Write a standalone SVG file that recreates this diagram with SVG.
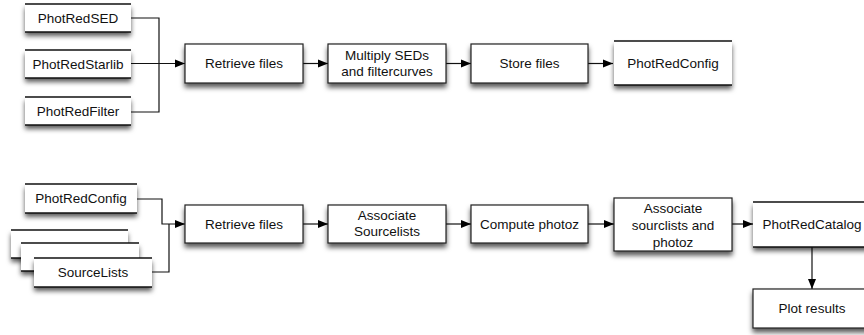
<svg xmlns="http://www.w3.org/2000/svg" width="864" height="335" viewBox="0 0 864 335">
<defs>
<filter id="sh" x="-10%" y="-20%" width="120%" height="160%">
<feDropShadow dx="0" dy="4" stdDeviation="2.5" flood-color="#000" flood-opacity="0.65"/>
</filter>
<marker id="ah" viewBox="0 0 10 10" refX="10" refY="5" markerWidth="10" markerHeight="10" markerUnits="userSpaceOnUse" orient="auto">
<path d="M0,1 L10,5 L0,9 Z" fill="#000"/>
</marker>
</defs>
<style>
.box{fill:#fff;stroke:#222;stroke-width:1.2}
.bg{fill:#fff}
.ln{stroke:#111;stroke-width:1.6}
.c{fill:none;stroke:#111;stroke-width:1.2}
text{font-family:"Liberation Sans",Arial,sans-serif;font-size:13.5px;fill:#111;text-anchor:middle}
</style>
<rect width="864" height="335" fill="#fff"/>

<g id="connectors">
<path class="c" d="M131,18 H159 V112 H131"/>
<path class="c" d="M131,63.5 H185" marker-end="url(#ah)"/>
<path class="c" d="M303,63.5 H328" marker-end="url(#ah)"/>
<path class="c" d="M446,63.5 H471" marker-end="url(#ah)"/>
<path class="c" d="M588,63.5 H613" marker-end="url(#ah)"/>
<path class="c" d="M137,199 H162 V224 H185" marker-end="url(#ah)"/>
<path class="c" d="M152,272 H169 V224"/>
<path class="c" d="M303,224 H328" marker-end="url(#ah)"/>
<path class="c" d="M446,224 H471" marker-end="url(#ah)"/>
<path class="c" d="M588,224 H614" marker-end="url(#ah)"/>
<path class="c" d="M732,224 H753" marker-end="url(#ah)"/>
<path class="c" d="M812,247 V289" marker-end="url(#ah)"/>
</g>

<g id="n-photredsed">
<rect class="bg" x="25" y="4" width="106" height="28" filter="url(#sh)"/>
<line class="ln" x1="25" y1="4" x2="131" y2="4"/><line class="ln" x1="25" y1="32" x2="131" y2="32"/>
<text x="78" y="23">PhotRedSED</text>
</g>
<g id="n-photredstarlib">
<rect class="bg" x="25" y="50" width="106" height="28" filter="url(#sh)"/>
<line class="ln" x1="25" y1="50" x2="131" y2="50"/><line class="ln" x1="25" y1="78" x2="131" y2="78"/>
<text x="78" y="69">PhotRedStarlib</text>
</g>
<g id="n-photredfilter">
<rect class="bg" x="25" y="97" width="106" height="28" filter="url(#sh)"/>
<line class="ln" x1="25" y1="97" x2="131" y2="97"/><line class="ln" x1="25" y1="125" x2="131" y2="125"/>
<text x="78" y="116">PhotRedFilter</text>
</g>

<g id="n-retrieve1">
<rect class="box" x="185" y="44" width="118" height="39" filter="url(#sh)"/>
<text x="244" y="68">Retrieve files</text>
</g>
<g id="n-multiply">
<rect class="box" x="328" y="44" width="118" height="39" filter="url(#sh)"/>
<text x="387" y="60">Multiply SEDs</text>
<text x="387" y="75.5">and filtercurves</text>
</g>
<g id="n-store">
<rect class="box" x="471" y="44" width="117" height="39" filter="url(#sh)"/>
<text x="529.5" y="68">Store files</text>
</g>
<g id="n-photredconfig1">
<rect class="bg" x="614" y="41" width="118" height="44" filter="url(#sh)"/>
<line class="ln" x1="614" y1="41" x2="732" y2="41"/><line class="ln" x1="614" y1="85" x2="732" y2="85"/>
<text x="673" y="68">PhotRedConfig</text>
</g>

<g id="n-photredconfig2">
<rect class="bg" x="25" y="184" width="112" height="29" filter="url(#sh)"/>
<line class="ln" x1="25" y1="184" x2="137" y2="184"/><line class="ln" x1="25" y1="213" x2="137" y2="213"/>
<text x="81" y="203">PhotRedConfig</text>
</g>
<g id="n-sourcelists">
<rect class="bg" x="11" y="230" width="117" height="28" filter="url(#sh)"/>
<line class="ln" x1="11" y1="230" x2="128" y2="230"/><line class="ln" x1="11" y1="258" x2="128" y2="258"/>
<rect class="bg" x="21" y="243" width="118" height="28" filter="url(#sh)"/>
<line class="ln" x1="21" y1="243" x2="139" y2="243"/><line class="ln" x1="21" y1="271" x2="139" y2="271"/>
<rect class="bg" x="34" y="258" width="118" height="29" filter="url(#sh)"/>
<line class="ln" x1="34" y1="258" x2="152" y2="258"/><line class="ln" x1="34" y1="287" x2="152" y2="287"/>
<text x="93" y="277">SourceLists</text>
</g>

<g id="n-retrieve2">
<rect class="box" x="185" y="205" width="118" height="38" filter="url(#sh)"/>
<text x="244" y="228.5">Retrieve files</text>
</g>
<g id="n-assoc1">
<rect class="box" x="328" y="205" width="118" height="38" filter="url(#sh)"/>
<text x="387" y="220">Associate</text>
<text x="387" y="236">Sourcelists</text>
</g>
<g id="n-compute">
<rect class="box" x="471" y="205" width="117" height="38" filter="url(#sh)"/>
<text x="529.5" y="228.5">Compute photoz</text>
</g>
<g id="n-assoc2">
<rect class="box" x="614" y="198" width="118" height="53" filter="url(#sh)"/>
<text x="673" y="213">Associate</text>
<text x="673" y="230">sourclists and</text>
<text x="673" y="247">photoz</text>
</g>
<g id="n-photredcatalog">
<rect class="bg" x="753" y="202" width="118" height="45" filter="url(#sh)"/>
<line class="ln" x1="753" y1="202" x2="871" y2="202"/><line class="ln" x1="753" y1="247" x2="871" y2="247"/>
<text x="812" y="229">PhotRedCatalog</text>
</g>
<g id="n-plot">
<rect class="box" x="753" y="289" width="118" height="39" filter="url(#sh)"/>
<text x="812" y="313">Plot results</text>
</g>
</svg>
